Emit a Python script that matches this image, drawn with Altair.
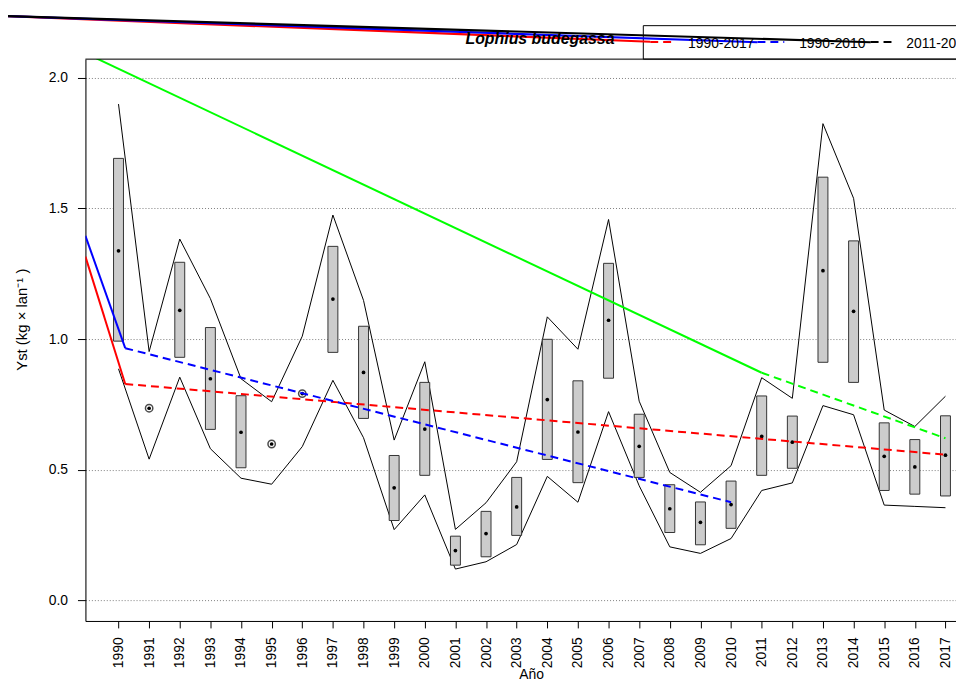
import altair as alt
import pandas as pd

# ---------------- data ----------------
years = list(range(1990, 2018))
mean_vals = [1.338, 0.735, 1.110, 0.848, 0.643, 0.598, 0.791, 1.153, 0.872, 0.430,
             0.655, 0.190, 0.255, 0.357, 0.768, 0.644, 1.072, 0.589, 0.350, 0.298,
             0.366, 0.627, 0.605, 1.262, 1.106, 0.551, 0.510, 0.555]
box_lo = [0.992, None, 0.930, 0.654, 0.507, None, None, 0.949, 0.696, 0.305,
          0.478, 0.134, 0.166, 0.248, 0.539, 0.450, 0.850, 0.470, 0.259, 0.212,
          0.275, 0.478, 0.505, 0.911, 0.834, 0.420, 0.406, 0.399]
box_hi = [1.692, None, 1.294, 1.044, 0.783, None, None, 1.355, 1.049, 0.554,
          0.834, 0.245, 0.340, 0.470, 0.999, 0.840, 1.290, 0.712, 0.442, 0.376,
          0.456, 0.782, 0.705, 1.620, 1.376, 0.679, 0.615, 0.706]
upper_env = [1.900, 0.952, 1.383, 1.155, 0.848, 0.760, 1.011, 1.475, 1.148, 0.613,
             0.913, 0.271, 0.373, 0.530, 1.085, 0.961, 1.458, 0.762, 0.489, 0.413,
             0.515, 0.852, 0.773, 1.825, 1.539, 0.728, 0.665, 0.781]
lower_env = [0.886, 0.540, 0.854, 0.580, 0.467, 0.444, 0.588, 0.842, 0.622, 0.270,
             0.403, 0.119, 0.147, 0.213, 0.474, 0.375, 0.722, 0.438, 0.204, 0.179,
             0.236, 0.420, 0.449, 0.745, 0.710, 0.364, 0.359, 0.354]
ring_years = [1991, 1995, 1996]

# trend segments (start year, start value, end year, end value, colour)
solid_seg_x0 = [1988.92, 1988.92, 1988.92]
solid_seg_y0 = [1.316, 1.395, 2.095]
solid_seg_x1 = [1990.22, 1990.22, 2011.0]
solid_seg_y1 = [0.828, 0.965, 0.871]
solid_seg_col = ["#FF0000", "#0000FF", "#00FF00"]

dash_seg_x0 = [1990.22, 1990.22, 2011.0]
dash_seg_y0 = [0.828, 0.965, 0.871]
dash_seg_x1 = [2017.0, 2010.0, 2017.0]
dash_seg_y1 = [0.557, 0.375, 0.620]
dash_seg_col = ["#FF0000", "#0000FF", "#00FF00"]

# stray legend connector lines above the plot
top_seg_x0 = [1986.39, 1986.39, 1986.39]
top_seg_y0 = [2.2368, 2.2368, 2.2368]
top_seg_x1 = [2007.36, 2010.86, 2014.56]
top_seg_y1 = [2.1387, 2.1368, 2.1368]
top_seg_col = ["#FF0000", "#0000FF", "#000000"]

legend_labels = ["1990-2017", "1990-2010", "2011-2017"]
legend_cols = ["#FF0000", "#0000FF", "#000000"]
title_text = "Lophius budegassa"

XMIN, XMAX = 1988.92, 2017.344
YMIN, YMAX = -0.0798, 2.0722
W, H = 877, 566
FONT = "Liberation Sans"

# ---------------- tables ----------------
df = pd.DataFrame({"year": years, "mean": mean_vals, "lo": box_lo, "hi": box_hi,
                   "up": upper_env, "low": lower_env})
df_box = df.dropna(subset=["lo", "hi"])
df_ring = df[df["year"].isin(ring_years)]


def seg_df(x0, y0, x1, y1, col):
    rows = []
    for i in range(len(x0)):
        rows.append({"seg": i, "ord": 0, "x": x0[i], "y": y0[i], "col": col[i]})
        rows.append({"seg": i, "ord": 1, "x": x1[i], "y": y1[i], "col": col[i]})
    return pd.DataFrame(rows)


df_solid = seg_df(solid_seg_x0, solid_seg_y0, solid_seg_x1, solid_seg_y1, solid_seg_col)
df_dash = seg_df(dash_seg_x0, dash_seg_y0, dash_seg_x1, dash_seg_y1, dash_seg_col)
df_top = seg_df(top_seg_x0, top_seg_y0, top_seg_x1, top_seg_y1, top_seg_col)

xs = alt.Scale(domain=[XMIN, XMAX], nice=False, zero=False)
ys = alt.Scale(domain=[YMIN, YMAX], nice=False, zero=False)

x_axis = alt.Axis(values=years, format="d", labelAngle=270, labelAlign="right",
                  labelBaseline="middle", tickSize=7, labelPadding=9,
                  labelFlush=False, labelOverlap=False, grid=False,
                  domainColor="black", tickColor="black", labelColor="black",
                  labelFont=FONT, labelFontSize=14, title="Año",
                  titleFont=FONT, titleFontSize=14, titleFontWeight="normal",
                  titleColor="black", titleX=449, titleY=47, titleBaseline="top",
                  titleAlign="center")
y_axis = alt.Axis(values=[0, 0.5, 1.0, 1.5, 2.0], format=".1f", tickSize=8,
                  labelPadding=10, grid=True, gridDash=[1, 2], gridColor="#7f7f7f",
                  gridWidth=1, domainColor="black", tickColor="black",
                  labelColor="black", labelFont=FONT, labelFontSize=14,
                  title="Yst   (kg  ×  lan⁻¹ )", titleFont=FONT, titleFontSize=15,
                  titleFontWeight="normal", titleColor="black", titleAngle=270,
                  titleX=-64, titleY=262, titleAlign="center",
                  titleBaseline="middle")


def X(field):
    return alt.X(field, scale=xs, axis=x_axis)


def Y(field):
    return alt.Y(field, scale=ys, axis=y_axis)


upper = alt.Chart(df).mark_line(color="black", strokeWidth=1).encode(
    x=X("year:Q"), y=Y("up:Q"))
lower = alt.Chart(df).mark_line(color="black", strokeWidth=1).encode(
    x=X("year:Q"), y=Y("low:Q"))
boxes = alt.Chart(df_box).transform_calculate(
    x0="datum.year - 0.162", x1="datum.year + 0.162"
).mark_rect(fill="#cccccc", stroke="#333333", strokeWidth=1).encode(
    x=X("x0:Q"), x2="x1:Q", y=Y("lo:Q"), y2="hi:Q")
dots = alt.Chart(df).mark_circle(size=14, color="black", opacity=1).encode(
    x=X("year:Q"), y=Y("mean:Q"))
rings = alt.Chart(df_ring).mark_point(shape="circle", filled=False, size=55,
                                      strokeWidth=1.5, color="black").encode(
    x=X("year:Q"), y=Y("mean:Q"))
solid_lines = alt.Chart(df_solid).mark_line(strokeWidth=2, clip=True).encode(
    x=X("x:Q"), y=Y("y:Q"), detail="seg:N", order="ord:Q",
    color=alt.Color("col:N", scale=None))
dash_lines = alt.Chart(df_dash).mark_line(strokeWidth=2, strokeDash=[8, 5],
                                          clip=True).encode(
    x=X("x:Q"), y=Y("y:Q"), detail="seg:N", order="ord:Q",
    color=alt.Color("col:N", scale=None))
top_lines = alt.Chart(df_top).mark_line(strokeWidth=2.2, clip=False).encode(
    x=X("x:Q"), y=Y("y:Q"), detail="seg:N", order="ord:Q",
    color=alt.Color("col:N", scale=None))

one = pd.DataFrame({"k": [0]})
top_border = alt.Chart(one).mark_rule(color="black", strokeWidth=1).encode(
    x=alt.value(0), x2=alt.value(W), y=alt.value(0))
legend_box = alt.Chart(one).mark_rect(fill=None, stroke="black",
                                      strokeWidth=1).encode(
    x=alt.value(562), x2=alt.value(960), y=alt.value(-33.7), y2=alt.value(0))

leg_samples = []
for xa, xb, c in [(569, 594, legend_cols[0]), (677, 704, legend_cols[1]),
                  (791, 814, legend_cols[2])]:
    leg_samples.append(alt.Chart(one).mark_rule(color=c, strokeWidth=2,
                                                strokeDash=[8, 5]).encode(
        x=alt.value(xa), x2=alt.value(xb), y=alt.value(-17.3)))

leg_texts = []
for xt, t in zip([607, 719, 827], legend_labels):
    leg_texts.append(alt.Chart(one).mark_text(
        text=t, align="left", baseline="middle", font=FONT, fontSize=14,
        color="black").encode(x=alt.value(xt), y=alt.value(-15)))

title = alt.Chart(one).mark_text(
    text=title_text, align="right", baseline="middle", font=FONT, fontSize=16,
    fontStyle="italic", fontWeight="bold", color="black").encode(
    x=alt.value(533), y=alt.value(-20))

chart = alt.layer(
    upper, lower, boxes, dots, rings, solid_lines, dash_lines, top_border,
    legend_box, *leg_samples, top_lines, *leg_texts, title
).properties(
    width=W, height=H, autosize=alt.AutoSizeParams(type="none"),
    padding={"left": 78, "top": 49, "right": 0, "bottom": 60},
).configure_view(stroke=None).configure(background="white")

chart.save("out.html", embed_options={"renderer": "svg", "actions": False})
